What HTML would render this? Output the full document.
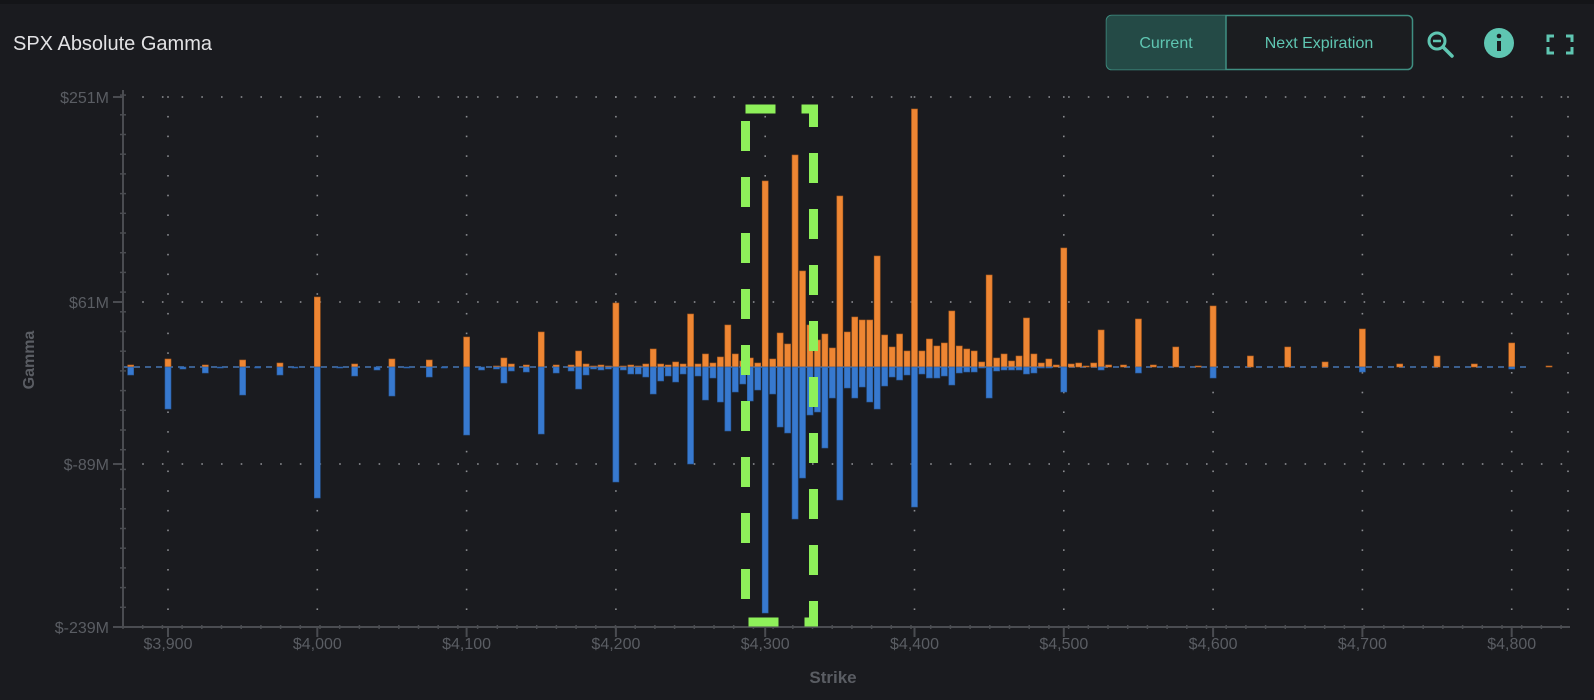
<!DOCTYPE html>
<html><head><meta charset="utf-8"><style>
html,body{margin:0;padding:0;background:#1a1b1f;width:1594px;height:700px;overflow:hidden;font-family:"Liberation Sans",sans-serif}
svg{position:absolute;left:0;top:0}
</style></head><body>
<svg id="s" width="1594" height="700" xmlns="http://www.w3.org/2000/svg">
<rect x="0" y="0" width="1594" height="700" fill="#1a1b1f"/>
<rect x="0" y="0" width="1594" height="4" fill="#141518"/>
<text x="13" y="50" font-size="20" fill="#e2e2e4" font-family="Liberation Sans, sans-serif">SPX Absolute Gamma</text>
<rect x="1106.5" y="15.5" width="306" height="54" rx="5" fill="#1b1d20" stroke="#3f8f82" stroke-width="1.5"/>
<path d="M1112 15.5 H1226 V69.5 H1112 a5.5 5.5 0 0 1 -5.5 -5.5 V21 a5.5 5.5 0 0 1 5.5 -5.5Z" fill="#244a46"/>
<line x1="1226" y1="15.5" x2="1226" y2="69.5" stroke="#3f8f82" stroke-width="1.5"/>
<text x="1166" y="48" font-size="16" fill="#5fc6b2" text-anchor="middle">Current</text>
<text x="1319" y="48" font-size="16" fill="#5fc6b2" text-anchor="middle">Next Expiration</text>
<circle cx="1437" cy="41" r="8" fill="none" stroke="#5fc6b2" stroke-width="3"/>
<line x1="1443" y1="47" x2="1452" y2="56" stroke="#5fc6b2" stroke-width="3.5" stroke-linecap="round"/>
<line x1="1433" y1="41" x2="1441" y2="41" stroke="#5fc6b2" stroke-width="2.5"/>
<circle cx="1499" cy="43" r="15" fill="#5fc6b2"/>
<rect x="1497" y="41" width="4" height="10" fill="#1a1b1f"/>
<circle cx="1499" cy="36" r="2.3" fill="#1a1b1f"/>
<path d="M1548 42 V36 H1554 M1566 36 H1572 V42 M1572 47 V53 H1566 M1554 53 H1548 V47" fill="none" stroke="#5fc6b2" stroke-width="3"/>
<g id="grid"></g>
<g id="bars"></g>
<g id="axes"></g>
<rect x="745.5" y="109" width="68" height="513" fill="none" stroke="#8ef05a" stroke-width="9" stroke-dasharray="30 26" stroke-dashoffset="0"/>
<text x="34" y="360" font-size="16" font-weight="bold" fill="#5a5d63" text-anchor="middle" transform="rotate(-90 34 360)">Gamma</text>
<text x="833" y="683" font-size="17" font-weight="bold" fill="#5a5d63" text-anchor="middle">Strike</text>
</svg>
<script>
var NS="http://www.w3.org/2000/svg";
function el(p,t,a,txt){var e=document.createElementNS(NS,t);for(var k in a)e.setAttribute(k,a[k]);if(txt)e.textContent=txt;p.appendChild(e);return e;}
var g=document.getElementById('grid'),b=document.getElementById('bars'),ax=document.getElementById('axes');
var X0=123,XR=1568,Y0=367,YT=97,YB=627;
function xs(s){return 317.3+(s-4000)*1.493;}
[97,302,464].forEach(function(y){for(var x=X0+20;x<XR;x+=19.7)el(g,'rect',{x:x-0.8,y:y-0.8,width:1.6,height:1.6,fill:'#8a8c90'});});
for(var s=3900;s<=4800;s+=100){var x=xs(s);for(var y=YT;y<YB;y+=19.7)el(g,'rect',{x:x-0.8,y:y-0.8,width:1.6,height:1.6,fill:'#8a8c90'});}
for(var y=YT;y<YB;y+=19.7)el(g,'rect',{x:XR-0.8,y:y-0.8,width:1.6,height:1.6,fill:'#8a8c90'});
el(b,'line',{x1:X0,y1:Y0,x2:1530,y2:Y0,stroke:'#3b5f8e','stroke-width':2,'stroke-dasharray':'6 5'});
var D={3875:[2,8],3900:[8,42],3910:[0,2],3925:[2,6],3935:[0,1],3950:[7,28],3960:[0,1],3975:[4,8],3985:[0,1],4000:[70,131],4015:[0,1],4025:[3,9],4040:[0,3],4050:[8,29],4060:[0,1],4075:[7,10],4085:[0,1],4100:[30,68],4110:[0,3],4120:[1,2],4125:[9,16],4130:[3,4],4140:[2,5],4150:[35,67],4160:[2,6],4170:[2,4],4175:[16,22],4180:[3,8],4185:[1,2],4190:[2,3],4195:[1,2],
4200:[64,115],4205:[1,3],4210:[2,7],4215:[1,7],4220:[3,10],4225:[18,27],4230:[3,14],4235:[2,9],4240:[5,15],4245:[3,7],4250:[53,97],4255:[3,9],4260:[13,33],4265:[4,11],4270:[10,35],4275:[42,64],4280:[13,25],4285:[6,17],4290:[9,34],4295:[4,23],4300:[186,246],4305:[8,27],4310:[34,60],4315:[23,66],4320:[212,152],4325:[96,111],4330:[42,48],4335:[27,45],4340:[33,81],4345:[19,31],4350:[171,133],4355:[35,21],4360:[50,31],4365:[47,20],4370:[47,35],4375:[111,42],4380:[32,19],4385:[20,10],4390:[33,13],4395:[16,8],4400:[258,140],4405:[16,7],4410:[28,11],4415:[21,11],4420:[24,9],4425:[56,18],4430:[21,6],4435:[18,5],4440:[16,5],4445:[5,1],4450:[92,31],4455:[9,4],4460:[13,3],4465:[6,3],4470:[11,3],4475:[49,7],4480:[13,6],4485:[4,1],4490:[8,1],4495:[2,0],4500:[119,25],4505:[3,0],4510:[4,0],4515:[1,0],4520:[4,0],4525:[37,3],4530:[2,0],4540:[2,0],4550:[48,6],4560:[2,0],4575:[20,0],4590:[1,0],4600:[61,11],4625:[11,0],4650:[20,0],4675:[5,0],4700:[38,5],4725:[3,0],4750:[11,0],4775:[3,0],4800:[24,2],4825:[1,0]};
for(var k in D){var s=+k,x=xs(s)-3,p=D[k][0],n=D[k][1];
 if(p>0)el(b,'rect',{x:x,y:Y0-p,width:6,height:p,fill:'#ee8633',stroke:'#b8621f','stroke-width':0.6});
 if(n>0)el(b,'rect',{x:x,y:Y0,width:6,height:n,fill:'#3779cf',stroke:'#2a5c9e','stroke-width':0.6});}
el(ax,'line',{x1:X0,y1:90,x2:X0,y2:YB,stroke:'#4a4c51','stroke-width':2});
el(ax,'line',{x1:X0,y1:YB,x2:1570,y2:YB,stroke:'#4a4c51','stroke-width':2});
for(var y=YB;y>90;y-=19.7)el(ax,'line',{x1:X0-3,y1:y,x2:X0+3,y2:y,stroke:'#4a4c51','stroke-width':1.5});
for(var x=X0;x<1570;x+=19.7)el(ax,'line',{x1:x,y1:YB-2,x2:x,y2:YB+2,stroke:'#4a4c51','stroke-width':1.5});
[[97,'$251M'],[302,'$61M'],[464,'$-89M'],[627,'$-239M']].forEach(function(a){
 el(ax,'line',{x1:X0-10,y1:a[0],x2:X0,y2:a[0],stroke:'#4a4c51','stroke-width':2});
 el(ax,'text',{x:109,y:a[0]+6,'font-size':16,fill:'#5a5d63','text-anchor':'end','font-family':'Liberation Sans, sans-serif'},a[1]);});
for(var s=3900;s<=4800;s+=100){var x=xs(s);
 el(ax,'line',{x1:x,y1:YB,x2:x,y2:YB+10,stroke:'#4a4c51','stroke-width':2});
 el(ax,'text',{x:x,y:YB+22,'font-size':16,fill:'#5a5d63','text-anchor':'middle','font-family':'Liberation Sans, sans-serif'},'$'+String(s).charAt(0)+','+String(s).slice(1));}
</script>
</body></html>
